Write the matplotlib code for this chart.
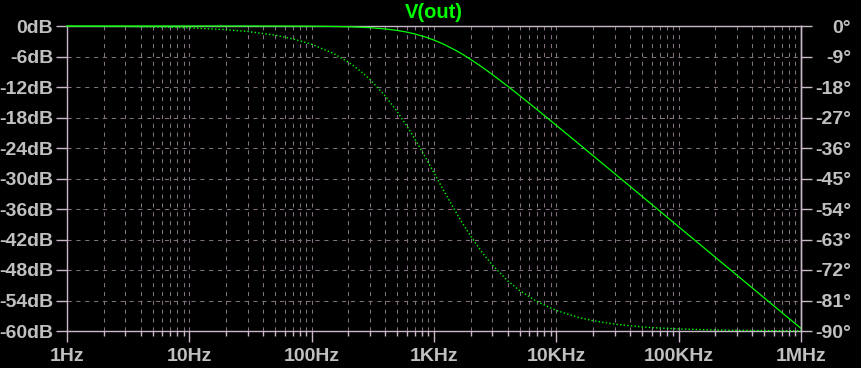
import matplotlib
matplotlib.use('Agg')
import matplotlib.pyplot as plt
from matplotlib.ticker import FixedLocator, LogLocator, NullFormatter

# ---- data ----
freq_hz = [1, 2, 3, 5, 7, 10, 20, 30, 50, 70, 100, 150, 200, 250, 300, 400,
           500, 600, 700, 850, 1e3, 1.2e3, 1.5e3, 1.7e3, 2e3, 2.5e3, 3e3,
           4e3, 5e3, 7e3, 1e4, 1.5e4, 2e4, 3e4, 5e4, 7e4,
           1e5, 2e5, 3e5, 5e5, 7e5, 1e6]
mag_db = [0.0, 0.0, 0.0, 0.0, 0.0, 0.0, -0.002, -0.003, -0.01, -0.02,
          -0.04, -0.09, -0.15, -0.24, -0.33, -0.58, -0.87, -1.20, -1.57,
          -2.16, -2.77, -3.58, -4.77, -5.53, -6.59, -8.17, -9.55, -11.83,
          -13.67, -16.49, -19.54, -23.04, -25.53, -29.04, -33.47, -36.40,
          -39.50, -45.52, -49.04, -53.47, -56.40, -59.49]
phase_deg = [-0.05, -0.11, -0.16, -0.27, -0.38, -0.54, -1.08, -1.62, -2.70,
             -3.78, -5.39, -8.05, -10.68, -13.27, -15.80, -20.67, -25.25,
             -29.51, -33.43, -38.72, -43.33, -48.54, -54.75, -58.06, -62.08,
             -67.02, -70.54, -75.16, -78.03, -81.39, -83.95, -85.96, -86.97,
             -87.98, -88.79, -89.13, -89.39, -89.70, -89.80, -89.88, -89.91,
             -89.94]

x_ticks = [1, 10, 100, 1e3, 1e4, 1e5, 1e6]
x_labels = ['1Hz', '10Hz', '100Hz', '1KHz', '10KHz', '100KHz', '1MHz']
db_ticks = [0, -6, -12, -18, -24, -30, -36, -42, -48, -54, -60]
db_labels = ['0dB', '-6dB', '-12dB', '-18dB', '-24dB', '-30dB', '-36dB',
             '-42dB', '-48dB', '-54dB', '-60dB']
ph_ticks = [0, -9, -18, -27, -36, -45, -54, -63, -72, -81, -90]
ph_labels = ['0°', '-9°', '-18°', '-27°', '-36°', '-45°', '-54°', '-63°',
             '-72°', '-81°', '-90°']
title = 'V(out)'

# ---- style ----
plt.rcParams['font.family'] = ['Liberation Sans', 'DejaVu Sans']
plt.rcParams['font.weight'] = 'bold'
GREEN = '#00ff00'
TXT = '#c0c0c0'
AXC = '#c8b8c8'
GRID = '#807080'
W, H = 862, 368

fig = plt.figure(figsize=(W / 100, H / 100), dpi=100, facecolor='black')
ax = fig.add_axes([67 / W, 1 - 331 / H, 734 / W, 305 / H])
ax.set_facecolor('black')
ax.set_xscale('log')
ax.set_xlim(1, 1e6)
ax.set_ylim(-60, 0)

ax2 = ax.twinx()
ax2.set_ylim(-90, 0)
ax2.patch.set_visible(False)

for s in ['left', 'right', 'top', 'bottom']:
    ax.spines[s].set_color(AXC)
    ax.spines[s].set_linewidth(1.0)
for s in ['left', 'top', 'bottom']:
    ax2.spines[s].set_visible(False)
ax2.spines['right'].set_color(AXC)
ax2.spines['right'].set_linewidth(1.0)

# x axis
ax.xaxis.set_major_locator(FixedLocator(x_ticks))
ax.set_xticklabels(x_labels)
ax.xaxis.set_minor_locator(LogLocator(base=10, subs=range(2, 10)))
ax.xaxis.set_minor_formatter(NullFormatter())
ax.tick_params(axis='x', which='major', direction='out', length=8, width=1,
               color=AXC, labelcolor=TXT, labelsize=14, pad=4)
ax.tick_params(axis='x', which='minor', direction='out', length=3.6, width=1,
               color=AXC)

# left y axis
ax.set_yticks(db_ticks)
ax.set_yticklabels(db_labels)
ax.tick_params(axis='y', which='major', direction='out', length=8, width=1,
               color=AXC, labelcolor=TXT, labelsize=14, pad=2)
ax.tick_params(axis='y', which='minor', length=0)

# right y axis
ax2.set_yticks(ph_ticks)
ax2.set_yticklabels(ph_labels)
ax2.tick_params(axis='y', which='major', direction='out', length=8, width=1,
                color=AXC, labelcolor=TXT, labelsize=14, pad=28)
for t in ax2.get_yticklabels():
    t.set_horizontalalignment('right')

# grid
dash = (0, (4, 4.5))
ax.grid(which='both', axis='x', color=GRID, linestyle=dash, linewidth=0.75)
ax.grid(which='major', axis='y', color=GRID, linestyle=dash, linewidth=0.75)
ax.set_axisbelow(True)

# traces
ax.plot(freq_hz, mag_db, color=GREEN, linewidth=0.9, clip_on=False, zorder=5)
ax2.plot(freq_hz, phase_deg, color=GREEN, linewidth=1.0,
         linestyle=(0, (1, 1.6)), clip_on=False, zorder=5)

ax.set_title(title, color=GREEN, fontsize=14.5, fontweight='bold', pad=5.5)

fig.savefig('out.png', dpi=100, facecolor='black')
